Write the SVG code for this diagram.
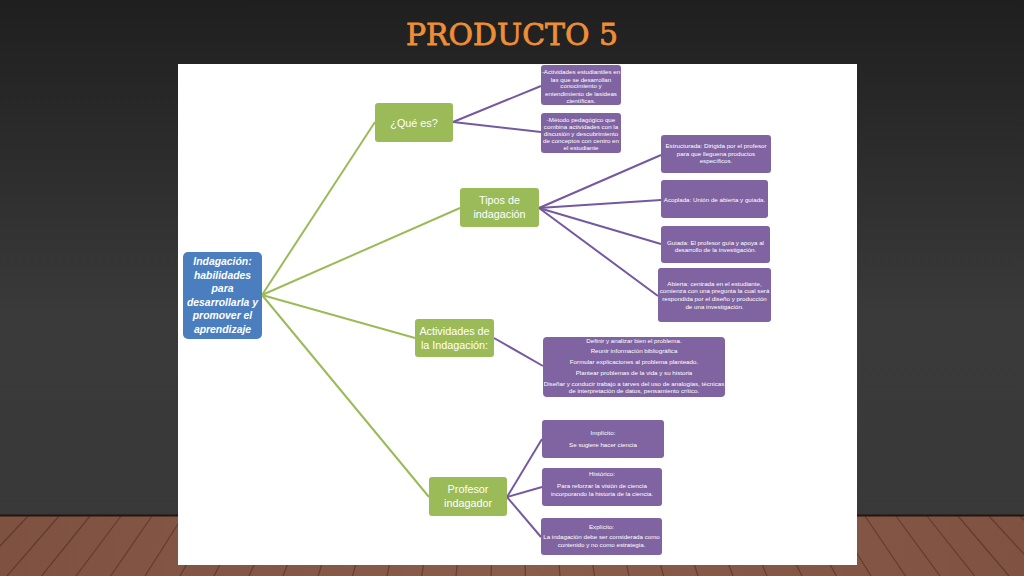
<svg xmlns="http://www.w3.org/2000/svg" width="1024" height="576" viewBox="0 0 1024 576">
<defs>
<linearGradient id="bg" x1="0" y1="0" x2="0" y2="1">
<stop offset="0" stop-color="#1f1f1f"/>
<stop offset="0.55" stop-color="#3a3a3a"/>
<stop offset="1" stop-color="#383838"/>
</linearGradient>
<linearGradient id="wood" x1="0" y1="0" x2="1" y2="0">
<stop offset="0" stop-color="#7e5141"/>
<stop offset="0.5" stop-color="#8a5c4a"/>
<stop offset="1" stop-color="#7f5242"/>
</linearGradient>
<clipPath id="floorclip"><rect x="0" y="515" width="1024" height="61"/></clipPath>
<style>
.g{fill:#9BBB59;}
.p{fill:#8064A2;}
.gl{stroke:#9BBB59;stroke-width:2;fill:none;}
.pl{stroke:#7559A0;stroke-width:2;fill:none;}
.gt{font-family:"Liberation Sans",Arial,sans-serif;font-size:10.8px;fill:#ffffff;text-anchor:middle;}
.pt{font-family:"Liberation Sans",Arial,sans-serif;font-size:6.2px;fill:#ffffff;text-anchor:middle;}
.rt{font-family:"Liberation Sans",Arial,sans-serif;font-size:10.4px;font-weight:bold;font-style:italic;fill:#ffffff;text-anchor:middle;}
.plank{stroke:#4e2e24;stroke-width:1.2;opacity:0.6;}
</style>
</defs>
<rect x="0" y="0" width="1024" height="576" fill="url(#bg)"/>
<rect x="0" y="515" width="1024" height="61" fill="url(#wood)"/>
<g clip-path="url(#floorclip)">
<line class="plank" x1="-3" y1="516" x2="-62" y2="576"/>
<line class="plank" x1="28" y1="516" x2="-28" y2="576"/>
<line class="plank" x1="59" y1="516" x2="7" y2="576"/>
<line class="plank" x1="90" y1="516" x2="41.5" y2="576"/>
<line class="plank" x1="121" y1="516" x2="76" y2="576"/>
<line class="plank" x1="152" y1="516" x2="110.6" y2="576"/>
<line class="plank" x1="183" y1="516" x2="145" y2="576"/>
<line class="plank" x1="214" y1="516" x2="180" y2="576"/>
<line class="plank" x1="245" y1="516" x2="214" y2="576"/>
<line class="plank" x1="276" y1="516" x2="249" y2="576"/>
<line class="plank" x1="307" y1="516" x2="283" y2="576"/>
<line class="plank" x1="338" y1="516" x2="318" y2="576"/>
<line class="plank" x1="369" y1="516" x2="352.6" y2="576"/>
<line class="plank" x1="400" y1="516" x2="387" y2="576"/>
<line class="plank" x1="431" y1="516" x2="421.7" y2="576"/>
<line class="plank" x1="462" y1="516" x2="456" y2="576"/>
<line class="plank" x1="493" y1="516" x2="491" y2="576"/>
<line class="plank" x1="524" y1="516" x2="525.4" y2="576"/>
<line class="plank" x1="555" y1="516" x2="560" y2="576"/>
<line class="plank" x1="586" y1="516" x2="594.5" y2="576"/>
<line class="plank" x1="617" y1="516" x2="629" y2="576"/>
<line class="plank" x1="648" y1="516" x2="663.6" y2="576"/>
<line class="plank" x1="679" y1="516" x2="698" y2="576"/>
<line class="plank" x1="710" y1="516" x2="733" y2="576"/>
<line class="plank" x1="741" y1="516" x2="767" y2="576"/>
<line class="plank" x1="772" y1="516" x2="802" y2="576"/>
<line class="plank" x1="803" y1="516" x2="836.5" y2="576"/>
<line class="plank" x1="834" y1="516" x2="871" y2="576"/>
<line class="plank" x1="865" y1="516" x2="905.6" y2="576"/>
<line class="plank" x1="896" y1="516" x2="940" y2="576"/>
<line class="plank" x1="927" y1="516" x2="974.7" y2="576"/>
<line class="plank" x1="958" y1="516" x2="1009" y2="576"/>
<line class="plank" x1="989" y1="516" x2="1044" y2="576"/>
<line class="plank" x1="1020" y1="516" x2="1078" y2="576"/>
</g>
<line x1="0" y1="515.5" x2="1024" y2="515.5" stroke="#24160f" stroke-width="2"/>
<text x="512" y="45" font-family="'DejaVu Serif','Liberation Serif',serif" font-size="30" fill="#EE8E36" stroke="#EE8E36" stroke-width="0.8" text-anchor="middle" textLength="212" lengthAdjust="spacingAndGlyphs">PRODUCTO 5</text>
<rect x="178" y="64" width="679" height="501" fill="#ffffff"/>

<g id="connectors">
<line class="gl" x1="262" y1="295" x2="375" y2="122"/>
<line class="gl" x1="262" y1="295" x2="460" y2="208"/>
<line class="gl" x1="262" y1="295" x2="415" y2="338"/>
<line class="gl" x1="262" y1="295" x2="429" y2="497"/>
<line class="pl" x1="453" y1="122" x2="541" y2="86"/>
<line class="pl" x1="453" y1="122" x2="541" y2="132"/>
<line class="pl" x1="539" y1="208" x2="661" y2="155"/>
<line class="pl" x1="539" y1="208" x2="661" y2="200"/>
<line class="pl" x1="539" y1="208" x2="661" y2="244"/>
<line class="pl" x1="539" y1="208" x2="658" y2="296"/>
<line class="pl" x1="494" y1="338" x2="543" y2="366"/>
<line class="pl" x1="507" y1="497" x2="542" y2="439"/>
<line class="pl" x1="507" y1="497" x2="542" y2="487"/>
<line class="pl" x1="507" y1="497" x2="541" y2="537"/>
</g>

<g id="root">
<rect x="183" y="252" width="79" height="87" rx="5" fill="#4A7EBF"/>
<text class="rt" x="222.5" y="265">Indagación:</text>
<text class="rt" x="222.5" y="278.5">habilidades</text>
<text class="rt" x="222.5" y="292">para</text>
<text class="rt" x="222.5" y="305.5">desarrollarla  y</text>
<text class="rt" x="222.5" y="319">promover el</text>
<text class="rt" x="222.5" y="332.5">aprendizaje</text>
</g>

<g id="que-es">
<rect class="g" x="375" y="103" width="78" height="39" rx="3"/>
<text class="gt" x="414" y="127">¿Qué es?</text>
</g>
<g id="tipos">
<rect class="g" x="460" y="188" width="79" height="39" rx="3"/>
<text class="gt" x="499.5" y="204">Tipos de</text>
<text class="gt" x="499.5" y="218">indagación</text>
</g>
<g id="actividades">
<rect class="g" x="415" y="319" width="79" height="38" rx="3"/>
<text class="gt" x="454.5" y="335">Actividades  de</text>
<text class="gt" x="454.5" y="349">la Indagación:</text>
</g>
<g id="profesor">
<rect class="g" x="429" y="477" width="78" height="39" rx="3"/>
<text class="gt" x="468" y="493">Profesor</text>
<text class="gt" x="468" y="507">indagador</text>
</g>

<g id="p1">
<rect class="p" x="541" y="65" width="80" height="40" rx="3"/>
<text class="pt" x="581" y="74">-Actividades  estudiantiles  en</text>
<text class="pt" x="581" y="81.5">las  que se desarrollan</text>
<text class="pt" x="581" y="88">conocimiento  y</text>
<text class="pt" x="581" y="95.5">entendimiento  de lasideas</text>
<text class="pt" x="581" y="102.5">científicas.</text>
</g>
<g id="p2">
<rect class="p" x="541" y="113" width="80" height="40" rx="3"/>
<text class="pt" x="581" y="121.5">-Método pedagógico que</text>
<text class="pt" x="581" y="128.5">combina  actividades  con la</text>
<text class="pt" x="581" y="135.5">discusión  y descubrimiento</text>
<text class="pt" x="581" y="142.5">de conceptos  con centro en</text>
<text class="pt" x="581" y="149.5">el estudiante</text>
</g>

<g id="r1">
<rect class="p" x="661" y="135" width="110" height="38" rx="3"/>
<text class="pt" x="716" y="148.3">Estructurada:  Dirigida por el profesor</text>
<text class="pt" x="716" y="155.6">para que lleguena  productos</text>
<text class="pt" x="716" y="163">específicos.</text>
</g>
<g id="r2">
<rect class="p" x="661" y="180" width="107" height="38" rx="3"/>
<text class="pt" x="714.5" y="202">Acoplada:  Unión de abierta  y guiada.</text>
</g>
<g id="r3">
<rect class="p" x="661" y="226" width="109" height="37" rx="3"/>
<text class="pt" x="715.5" y="245">Guiada:  El profesor guía  y apoya al</text>
<text class="pt" x="715.5" y="251.6">desarrollo de la investigación.</text>
</g>
<g id="r4">
<rect class="p" x="658" y="268" width="113" height="54" rx="3"/>
<text class="pt" x="714.5" y="285.6">Abierta:  centrada en el estudiante,</text>
<text class="pt" x="714.5" y="293.3">comienza  con una pregunta la cual será</text>
<text class="pt" x="714.5" y="301">respondida por el diseño y producción</text>
<text class="pt" x="714.5" y="309">de una investigación.</text>
</g>

<g id="m">
<rect class="p" x="543" y="337" width="182" height="60" rx="4"/>
<text class="pt" x="634" y="343.3">Definir  y analizar bien el problema.</text>
<text class="pt" x="634" y="353">Reunir información  bibliográfica</text>
<text class="pt" x="634" y="364">Formular  explicaciones  al problema  planteado.</text>
<text class="pt" x="634" y="375">Plantear  problemas  de la vida  y su historia</text>
<text class="pt" x="634" y="385.6">Diseñar  y conducir  trabajo a tarves del uso de analogías,  técnicas</text>
<text class="pt" x="634" y="393.3">de interpretación  de datos,  pensamiento  crítico.</text>
</g>

<g id="b1">
<rect class="p" x="542" y="420" width="122" height="38" rx="3"/>
<text class="pt" x="603" y="435.3">Implícito:</text>
<text class="pt" x="603" y="446.6">Se sugiere  hacer ciencia</text>
</g>
<g id="b2">
<rect class="p" x="542" y="468" width="120" height="38" rx="3"/>
<text class="pt" x="602" y="476">Histórico:</text>
<text class="pt" x="602" y="488.3">Para reforzar la visión de ciencia</text>
<text class="pt" x="602" y="496.3">incorporando la historia  de la ciencia.</text>
</g>
<g id="b3">
<rect class="p" x="541" y="518" width="121" height="37" rx="3"/>
<text class="pt" x="601.5" y="529.3">Explícito:</text>
<text class="pt" x="601.5" y="539.3">La indagación  debe ser considerada  como</text>
<text class="pt" x="601.5" y="547">contenido  y no como  estrategia.</text>
</g>
</svg>
